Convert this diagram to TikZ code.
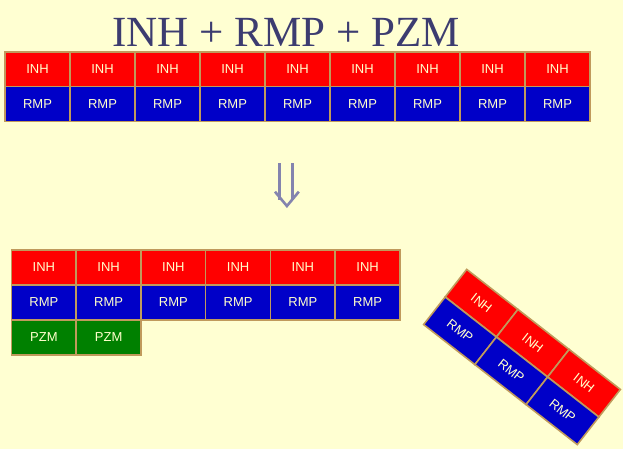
\documentclass[tikz,border=0pt]{standalone}
\usepackage{fontspec}
\setmainfont{Liberation Serif}
\newfontfamily\cellfont{Liberation Sans}
\definecolor{bgc}{HTML}{FFFFD2}
\definecolor{edgec}{HTML}{C09A5C}
\definecolor{inhc}{HTML}{FF0000}
\definecolor{rmpc}{HTML}{0000C8}
\definecolor{pzmc}{HTML}{008000}
\definecolor{txtc}{HTML}{FFFFCC}
\definecolor{titlec}{HTML}{3C3C70}
\definecolor{arrc}{HTML}{8484AE}
\tikzset{
  cellbox/.style={draw=edgec, line width=1.6pt, minimum width=65pt, minimum height=35pt,
    inner sep=0pt, font=\cellfont\fontsize{13}{13}\selectfont, text=txtc},
  inhbox/.style={cellbox, fill=inhc},
  rmpbox/.style={cellbox, fill=rmpc},
  pzmbox/.style={cellbox, fill=pzmc},
  arrline/.style={draw=arrc, line width=2.6pt, line join=miter}
}
\begin{document}
\begin{tikzpicture}[x=1pt,y=-1pt]
\fill[bgc] (0,0) rectangle (623,449);
\useasboundingbox (0,0) rectangle (623,449);
% title
\node[anchor=base, text=titlec, font=\fontsize{43}{43}\selectfont, inner sep=0pt] (title) at (286,47) {INH + RMP + PZM};
% top grid
\foreach \i in {0,...,8} {
  \node[inhbox] (ti\i) at ({5+32.5+65*\i},69.5) {INH};
  \node[rmpbox] (tr\i) at ({5+32.5+65*\i},104) {RMP};
}
% arrow
\draw[arrline] (279.2,163.3) -- (279.2,200);
\draw[arrline] (292.6,163.3) -- (292.6,200);
\draw[arrline] (275,191.7) -- (286.9,206) -- (298.8,191.7);
% bottom grid
\foreach \i in {0,...,5} {
  \node[inhbox] (bi\i) at ({11.5+32.4+64.75*\i},267.5) {INH};
  \node[rmpbox] (br\i) at ({11.5+32.4+64.75*\i},302.5) {RMP};
}
\foreach \i in {0,1} {
  \node[pzmbox] (bp\i) at ({11.5+32.4+64.75*\i},337.5) {PZM};
}
% rotated group
\begin{scope}[shift={(522,357)}, rotate=-38, transform shape]
\foreach \i in {0,1,2} {
  \node[inhbox] (ri\i) at ({-65+65*\i},-17.5) {INH};
  \node[rmpbox] (rr\i) at ({-65+65*\i},17.5) {RMP};
}
\end{scope}
\end{tikzpicture}
\end{document}
